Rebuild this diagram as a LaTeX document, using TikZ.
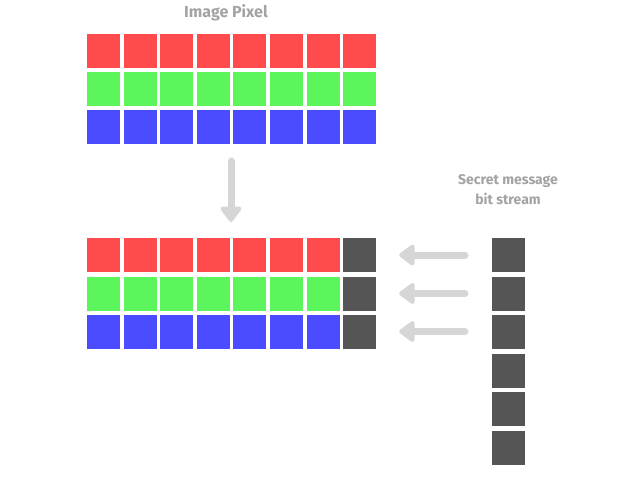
\documentclass[tikz,border=0pt]{standalone}
\usepackage{fontspec}
\setmainfont{Fira Sans}
\usetikzlibrary{arrows.meta}
\definecolor{pred}{HTML}{FF4B4B}
\definecolor{pgreen}{HTML}{5CF65C}
\definecolor{pblue}{HTML}{4B4BFF}
\definecolor{pdark}{HTML}{555555}
\definecolor{ptext}{HTML}{A3A3A3}
\definecolor{parrow}{HTML}{D6D6D6}
\begin{document}
\begin{tikzpicture}[x=1pt,y=-1pt,
  px/.style={minimum width=33pt,minimum height=34pt,inner sep=0pt,outer sep=0pt,fill=#1},
  lbl/.style={text=ptext,font=\fontsize{14}{20}\selectfont\bfseries,align=center},
  arr/.style={draw=parrow,line width=7pt,line cap=round,line join=round,
    -{Triangle[width=24pt,length=17pt,round]}}]
\useasboundingbox (0,0) rectangle (632,477);
\node[lbl,font=\fontsize{16}{20}\selectfont\bfseries] (title) at (226,13) {Image Pixel};
\foreach \i in {0,...,7}{
  \pgfmathsetmacro{\xx}{103.5+36.6*\i}
  \node[px=pred]   (tr\i) at (\xx,51) {};
  \node[px=pgreen] (tg\i) at (\xx,88.5) {};
  \node[px=pblue]  (tb\i) at (\xx,127) {};
  \ifnum\i<7
    \node[px=pred]   (br\i) at (\xx,255) {};
    \node[px=pgreen] (bg\i) at (\xx,293.5) {};
    \node[px=pblue]  (bb\i) at (\xx,331.5) {};
  \else
    \node[px=pdark] (br\i) at (\xx,255) {};
    \node[px=pdark] (bg\i) at (\xx,293.5) {};
    \node[px=pdark] (bb\i) at (\xx,331.5) {};
  \fi
}
\node[lbl] (secret) at (508,190) {Secret message\\bit stream};
\foreach \y [count=\k] in {255,293.5,331.5,371,409,447.5}{
  \node[px=pdark] (s\k) at (508.5,\y) {};
}
\coordinate (dtop) at (231,161);
\coordinate (dbot) at (231,222);
\draw[arr] (dtop) -- (dbot);
\draw[arr] ([xshift=-27pt]s1.west) -- ([xshift=23pt]br7.east);
\draw[arr] ([xshift=-27pt]s2.west) -- ([xshift=23pt]bg7.east);
\draw[arr] ([xshift=-27pt]s3.west) -- ([xshift=23pt]bb7.east);
\end{tikzpicture}
\end{document}
